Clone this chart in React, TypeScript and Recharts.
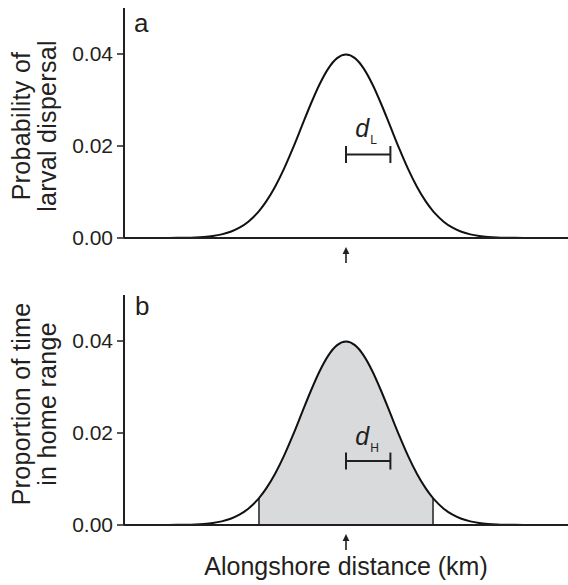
import React from "react";
import {
  ComposedChart,
  Line,
  Area,
  XAxis,
  YAxis,
  ReferenceLine,
  ReferenceDot,
} from "recharts";

// alongshore distance (km), 0 = home location
const distance = [
  -50, -48, -46, -44, -42, -40, -38, -36, -34, -32, -30, -28, -26, -24, -22, -20, -19.6,
  -18, -16, -14, -12, -10, -8, -6, -4, -2, 0, 2, 4, 6, 8, 10, 12, 14, 16, 18, 19.6, 20,
  22, 24, 26, 28, 30, 32, 34, 36, 38, 40, 42, 44, 46, 48, 50,
];

// panel a: probability of larval dispersal
const dispersal = [
  0, 0, 0, 0, 0, 0.00001, 0.00003, 0.00006, 0.00012, 0.00024, 0.00044, 0.00079, 0.00136,
  0.00224, 0.00355, 0.0054, 0.00584, 0.0079, 0.01109, 0.01497, 0.01942, 0.0242, 0.02897,
  0.03332, 0.03683, 0.0391, 0.03989, 0.0391, 0.03683, 0.03332, 0.02897, 0.0242, 0.01942,
  0.01497, 0.01109, 0.0079, 0.00584, 0.0054, 0.00355, 0.00224, 0.00136, 0.00079, 0.00044,
  0.00024, 0.00012, 0.00006, 0.00003, 0.00001, 0, 0, 0, 0, 0,
];

// panel b: proportion of time in home range
const homeRange = [
  0, 0, 0, 0, 0, 0.00001, 0.00003, 0.00006, 0.00012, 0.00024, 0.00044, 0.00079, 0.00136,
  0.00224, 0.00355, 0.0054, 0.00584, 0.0079, 0.01109, 0.01497, 0.01942, 0.0242, 0.02897,
  0.03332, 0.03683, 0.0391, 0.03989, 0.0391, 0.03683, 0.03332, 0.02897, 0.0242, 0.01942,
  0.01497, 0.01109, 0.0079, 0.00584, 0.0054, 0.00355, 0.00224, 0.00136, 0.00079, 0.00044,
  0.00024, 0.00012, 0.00006, 0.00003, 0.00001, 0, 0, 0, 0, 0,
];

const shadeFrom = -19.6;
const shadeTo = 19.6;

const yTicks = [0, 0.02, 0.04];
const xDomain = [-50, 50];
const yDomain = [0, 0.05];

// scale bars (km) and their heights
const dLBar = { from: 0, to: 10, y: 0.01815, textY: 0.0219 };
const dHBar = { from: 0, to: 10, y: 0.0139, textY: 0.0174 };

const INK = "#231f20";
const FONT = "'Liberation Sans', Arial, Helvetica, sans-serif";

const dataA = distance.map((x, i) => ({ x, v: dispersal[i] }));
const dataB = distance.map((x, i) => ({
  x,
  v: homeRange[i],
  shade: x >= shadeFrom && x <= shadeTo ? homeRange[i] : null,
}));

const edgeFrom = homeRange[distance.indexOf(shadeFrom)];
const edgeTo = homeRange[distance.indexOf(shadeTo)];

const ArrowTick = (props: any) => {
  const { x, y } = props;
  return (
    <g>
      <line x1={x} y1={y + 14} x2={x} y2={y + 25} stroke={INK} strokeWidth={1.6} />
      <path d={`M${x},${y + 9} L${x - 3.4},${y + 16} L${x + 3.4},${y + 16} Z`} fill={INK} />
    </g>
  );
};

const makeYLabel = (l1: string, l2: string, cy: number) => () =>
  (
    <g transform={`translate(0, ${cy}) rotate(-90)`}>
      <text x={0} y={29.5} textAnchor="middle" fontSize={25} letterSpacing={0.3} fill={INK} fontFamily={FONT}>
        {l1}
      </text>
      <text x={0} y={55.5} textAnchor="middle" fontSize={25} letterSpacing={0.3} fill={INK} fontFamily={FONT}>
        {l2}
      </text>
    </g>
  );

const dText = (sub: string) => (props: any) =>
  (
    <text x={props.cx} y={props.cy} fill={INK} fontFamily={FONT}>
      <tspan fontSize={25} fontStyle="italic">d</tspan>
      <tspan fontSize={12} dx={1} dy={7}>{sub}</tspan>
    </text>
  );

function ScaleBar({ bar, sub }: { bar: typeof dLBar; sub: string }) {
  const cap = 0.00185;
  return (
    <>
      <ReferenceLine
        segment={[{ x: bar.from, y: bar.y }, { x: bar.to, y: bar.y }]}
        stroke={INK}
        strokeWidth={2}
      />
      <ReferenceLine
        segment={[{ x: bar.from, y: bar.y - cap }, { x: bar.from, y: bar.y + cap }]}
        stroke={INK}
        strokeWidth={2}
      />
      <ReferenceLine
        segment={[{ x: bar.to, y: bar.y - cap }, { x: bar.to, y: bar.y + cap }]}
        stroke={INK}
        strokeWidth={2}
      />
      <ReferenceDot x={2.1} y={bar.textY} r={0} shape={dText(sub)} />
    </>
  );
}

const tickStyle = { fontSize: 21, fill: INK, fontFamily: FONT };

export default function App() {
  return (
    <div style={{ position: "absolute", left: 0, top: 0, width: 568, height: 585, background: "#fff" }}>
      {/* panel a */}
      <div style={{ position: "absolute", left: 0, top: 0 }}>
        <ComposedChart width={568} height={280} data={dataA} margin={{ top: 8, right: 0, bottom: 0, left: 0 }}>
          <XAxis
            dataKey="x"
            type="number"
            domain={xDomain}
            ticks={[0]}
            tick={<ArrowTick />}
            tickLine={false}
            tickSize={0}
            tickMargin={0}
            height={42}
            axisLine={{ stroke: INK, strokeWidth: 2 }}
          />
          <YAxis
            domain={yDomain}
            ticks={yTicks}
            tickFormatter={(v: number) => v.toFixed(2)}
            tick={tickStyle}
            tickSize={7}
            tickMargin={4}
            width={124}
            axisLine={{ stroke: INK, strokeWidth: 2 }}
            tickLine={{ stroke: INK, strokeWidth: 1.5 }}
            label={{ content: makeYLabel("Probability of", "larval dispersal", 126) }}
          />
          <Line
            type="monotone"
            dataKey="v"
            stroke="#111"
            strokeWidth={2}
            dot={false}
            isAnimationActive={false}
          />
          <ScaleBar bar={dLBar} sub="L" />
        </ComposedChart>
      </div>
      <div style={{ position: "absolute", left: 134, top: 8, fontFamily: FONT, fontSize: 26, color: INK }}>a</div>

      {/* panel b */}
      <div style={{ position: "absolute", left: 0, top: 287 }}>
        <ComposedChart width={568} height={298} data={dataB} margin={{ top: 8, right: 0, bottom: 0, left: 0 }}>
          <XAxis
            dataKey="x"
            type="number"
            domain={xDomain}
            ticks={[0]}
            tick={<ArrowTick />}
            tickLine={false}
            tickSize={0}
            tickMargin={0}
            height={60}
            axisLine={{ stroke: INK, strokeWidth: 2 }}
            label={{
              value: "Alongshore distance (km)",
              position: "insideBottom",
              offset: 10,
              fontSize: 25,
              fill: INK,
              fontFamily: FONT,
            }}
          />
          <YAxis
            domain={yDomain}
            ticks={yTicks}
            tickFormatter={(v: number) => v.toFixed(2)}
            tick={tickStyle}
            tickSize={7}
            tickMargin={4}
            width={124}
            axisLine={{ stroke: INK, strokeWidth: 2 }}
            tickLine={{ stroke: INK, strokeWidth: 1.5 }}
            label={{ content: makeYLabel("Proportion of time", "in home range", 404 - 287) }}
          />
          <Area
            type="monotone"
            dataKey="shade"
            stroke="none"
            fill="#d9dadc"
            fillOpacity={1}
            baseValue={0}
            connectNulls={false}
            isAnimationActive={false}
          />
          <ReferenceLine
            segment={[{ x: shadeFrom, y: 0 }, { x: shadeFrom, y: edgeFrom }]}
            stroke={INK}
            strokeWidth={1.5}
          />
          <ReferenceLine
            segment={[{ x: shadeTo, y: 0 }, { x: shadeTo, y: edgeTo }]}
            stroke={INK}
            strokeWidth={1.5}
          />
          <Line
            type="monotone"
            dataKey="v"
            stroke="#111"
            strokeWidth={2}
            dot={false}
            isAnimationActive={false}
          />
          <ScaleBar bar={dHBar} sub="H" />
        </ComposedChart>
      </div>
      <div style={{ position: "absolute", left: 135, top: 291, fontFamily: FONT, fontSize: 26, color: INK }}>b</div>
    </div>
  );
}
